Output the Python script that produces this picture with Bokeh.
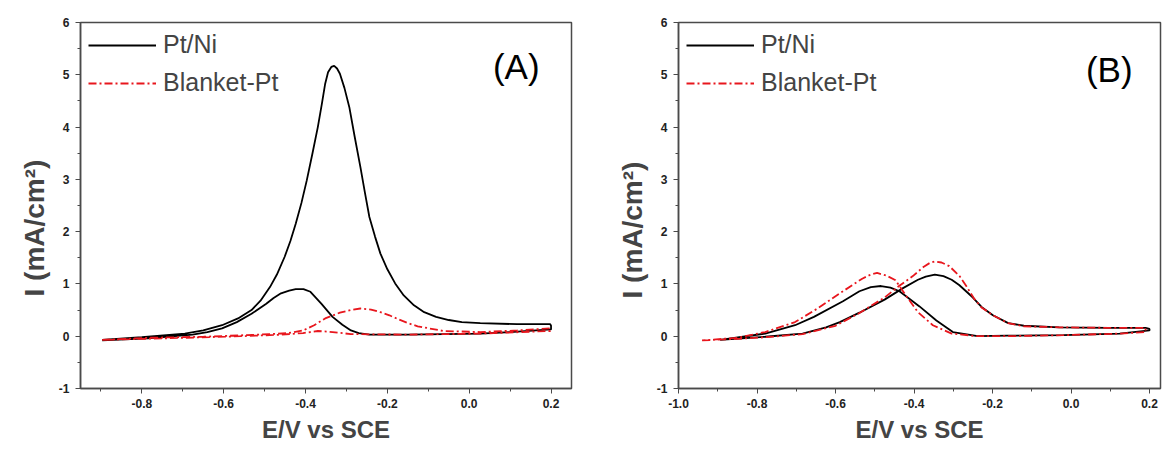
from bokeh.plotting import figure
from bokeh.layouts import row
from bokeh.models import (FixedTicker, PrintfTickFormatter, Range1d, Legend,
                          LegendItem, Title, Label)
from bokeh.embed import file_html
from bokeh.resources import INLINE

# ---------------- data ----------------
# Panel A, Pt/Ni (black): forward and reverse scan
a_ptni_fwd_e = [-0.897, -0.80, -0.74, -0.695, -0.65, -0.604, -0.565, -0.532, -0.51, -0.487,
                -0.47, -0.451, -0.437, -0.424, -0.41, -0.397, -0.383, -0.370, -0.36, -0.352,
                -0.345, -0.337, -0.33, -0.323, -0.316, -0.305, -0.293, -0.28, -0.266, -0.255,
                -0.244, -0.23, -0.217, -0.20, -0.181, -0.16, -0.135, -0.11, -0.081, -0.05,
                -0.018, 0.027, 0.117, 0.198, 0.20]
a_ptni_fwd_i = [-0.07, -0.02, 0.02, 0.05, 0.11, 0.21, 0.34, 0.50, 0.68, 0.94,
                1.18, 1.52, 1.82, 2.15, 2.55, 2.98, 3.50, 4.00, 4.45, 4.83,
                5.05, 5.15, 5.17, 5.12, 5.02, 4.75, 4.38, 3.82, 3.24, 2.75,
                2.28, 1.90, 1.58, 1.28, 1.01, 0.78, 0.59, 0.46, 0.37, 0.31,
                0.27, 0.25, 0.23, 0.23, 0.20]
a_ptni_rev_e = [0.20, 0.10, 0.027, -0.06, -0.153, -0.244, -0.27, -0.289, -0.31, -0.334,
                -0.361, -0.388, -0.405, -0.424, -0.44, -0.460, -0.478, -0.496, -0.532, -0.568,
                -0.604, -0.64, -0.676, -0.785, -0.897]
a_ptni_rev_i = [0.13, 0.08, 0.05, 0.04, 0.03, 0.03, 0.06, 0.11, 0.22, 0.37,
                0.62, 0.85, 0.90, 0.90, 0.87, 0.82, 0.73, 0.62, 0.43, 0.27,
                0.15, 0.08, 0.03, -0.04, -0.08]

# Panel A, Blanket-Pt (red)
a_pt_fwd_e = [-0.897, -0.785, -0.649, -0.514, -0.442, -0.406, -0.379, -0.352, -0.316, -0.29,
              -0.266, -0.24, -0.217, -0.195, -0.172, -0.15, -0.126, -0.063, 0.027, 0.117, 0.198]
a_pt_fwd_i = [-0.07, -0.03, -0.01, 0.03, 0.06, 0.11, 0.21, 0.34, 0.45, 0.50,
              0.53, 0.51, 0.46, 0.40, 0.32, 0.25, 0.19, 0.10, 0.08, 0.11, 0.15]
a_pt_rev_e = [0.198, 0.027, -0.153, -0.289, -0.334, -0.370, -0.406, -0.460, -0.559, -0.694, -0.897]
a_pt_rev_i = [0.10, 0.05, 0.03, 0.04, 0.08, 0.10, 0.06, 0.03, 0.00, -0.03, -0.07]

# Panel B, Pt/Ni (black)
b_ptni_fwd_e = [-0.894, -0.779, -0.684, -0.624, -0.589, -0.539, -0.475, -0.428, -0.390, -0.37,
                -0.347, -0.325, -0.304, -0.285, -0.266, -0.250, -0.228, -0.199, -0.160, -0.120,
                -0.030, 0.098, 0.190, 0.20]
b_ptni_fwd_i = [-0.07, -0.01, 0.05, 0.17, 0.27, 0.45, 0.70, 0.92, 1.08, 1.14,
                1.18, 1.15, 1.08, 0.98, 0.85, 0.74, 0.56, 0.40, 0.25, 0.20,
                0.17, 0.16, 0.16, 0.14]
b_ptni_rev_e = [0.20, 0.124, -0.019, -0.162, -0.238, -0.301, -0.343, -0.386, -0.437, -0.46,
                -0.484, -0.51, -0.539, -0.581, -0.655, -0.703, -0.779, -0.894]
b_ptni_rev_i = [0.11, 0.05, 0.02, 0.01, 0.00, 0.08, 0.30, 0.57, 0.86, 0.93,
                0.96, 0.94, 0.86, 0.67, 0.37, 0.21, 0.05, -0.07]

# Panel B, Blanket-Pt (red)
b_pt_fwd_e = [-0.94, -0.85, -0.779, -0.684, -0.60, -0.54, -0.475, -0.44, -0.403, -0.375,
              -0.36, -0.347, -0.33, -0.31, -0.284, -0.266, -0.247, -0.228, -0.199, -0.16,
              -0.12, -0.03, 0.098, 0.19]
b_pt_fwd_i = [-0.08, -0.05, -0.02, 0.04, 0.20, 0.44, 0.74, 0.95, 1.15, 1.33,
              1.40, 1.43, 1.41, 1.34, 1.15, 0.95, 0.72, 0.55, 0.40, 0.25,
              0.19, 0.17, 0.16, 0.16]
b_pt_rev_e = [0.19, 0.124, -0.019, -0.162, -0.238, -0.304, -0.352, -0.390, -0.418, -0.447,
              -0.47, -0.494, -0.51, -0.532, -0.589, -0.646, -0.703, -0.779, -0.85, -0.94]
b_pt_rev_i = [0.08, 0.05, 0.02, 0.00, 0.00, 0.05, 0.21, 0.46, 0.75, 1.07,
              1.16, 1.21, 1.18, 1.10, 0.82, 0.53, 0.27, 0.08, -0.03, -0.08]

series_names = ["Pt/Ni", "Blanket-Pt"]
y_ticks = [-1, 0, 1, 2, 3, 4, 5, 6]
y_minor = [-0.5, 0.5, 1.5, 2.5, 3.5, 4.5, 5.5]
a_x_ticks = [-0.8, -0.6, -0.4, -0.2, 0.0, 0.2]
a_x_minor = [-0.9, -0.7, -0.5, -0.3, -0.1, 0.1]
b_x_ticks = [-1.0, -0.8, -0.6, -0.4, -0.2, 0.0, 0.2]
b_x_minor = [-0.9, -0.7, -0.5, -0.3, -0.1, 0.1]
x_label = "E/V vs SCE"
y_label = "I (mA/cm²)"

FONT = "Liberation Sans"
AXC = "#4a4a4a"
RED = "#e8161d"


def make_panel(width, border_left, border_right, xr, xticks, xminor, black, red, tag,
               tag_x, tag_y, ylab_off):
    p = figure(width=width, height=449, x_range=Range1d(*xr), y_range=Range1d(-1, 6),
               output_backend="svg", toolbar_location=None,
               min_border_left=border_left, min_border_right=border_right,
               min_border_top=22, min_border_bottom=61)
    p.grid.visible = False
    p.outline_line_color = AXC
    p.outline_line_width = 1.5
    p.background_fill_color = "white"
    p.border_fill_color = "white"

    for ax in (p.xaxis[0], p.yaxis[0]):
        ax.axis_line_color = AXC
        ax.axis_line_width = 1.5
        ax.major_tick_line_color = AXC
        ax.minor_tick_line_color = AXC
        ax.major_tick_in = 0
        ax.major_tick_out = 5
        ax.minor_tick_in = 0
        ax.minor_tick_out = 3
        ax.major_label_text_font = FONT
        ax.major_label_text_font_style = "bold"
        ax.major_label_text_font_size = "12px"
        ax.major_label_text_color = "#222"
    p.xaxis[0].ticker = FixedTicker(ticks=xticks, minor_ticks=xminor)
    p.xaxis[0].formatter = PrintfTickFormatter(format="%.1f")
    p.xaxis[0].major_label_standoff = 5
    p.yaxis[0].ticker = FixedTicker(ticks=y_ticks, minor_ticks=y_minor)
    p.yaxis[0].formatter = PrintfTickFormatter(format="%d")
    p.yaxis[0].major_label_standoff = 6

    be, bi = black
    re_, ri = red
    r1 = p.line(be, bi, line_color="black", line_width=1.8)
    r2 = p.line(re_, ri, line_color=RED, line_width=1.8, line_dash="8 3 2 3")

    legend = Legend(items=[LegendItem(label=series_names[0], renderers=[r1]),
                           LegendItem(label=series_names[1], renderers=[r2])],
                    location="top_left", border_line_color=None, background_fill_alpha=0,
                    glyph_width=68, glyph_height=28, label_height=28,
                    label_text_font=FONT, label_text_font_size="25px",
                    label_standoff=7, spacing=9, padding=2, margin=8)
    p.add_layout(legend)

    p.add_layout(Label(x=tag_x, y=tag_y, text=tag, text_font=FONT, text_font_size="35px",
                       text_align="left", text_baseline="middle", text_color="black"))

    xt = Title(text=x_label, align="center", text_font=FONT,
               text_font_style="bold", text_font_size="24px", standoff=6)
    p.add_layout(xt, "below")
    yt = Title(text=y_label, align="left", offset=ylab_off, text_font=FONT,
               text_font_style="bold", text_font_size="28px", standoff=12)
    p.add_layout(yt, "left")
    return p


pa = make_panel(600, 80, 29, (-0.95, 0.25), a_x_ticks, a_x_minor,
                (a_ptni_fwd_e + a_ptni_rev_e, a_ptni_fwd_i + a_ptni_rev_i),
                (a_pt_fwd_e + a_pt_rev_e, a_pt_fwd_i + a_pt_rev_i),
                "(A)", 0.058, 5.15, 92)
pb = make_panel(562, 78, 2, (-1.0, 0.228), b_x_ticks, b_x_minor,
                (b_ptni_fwd_e + b_ptni_rev_e, b_ptni_fwd_i + b_ptni_rev_i),
                (b_pt_fwd_e + b_pt_rev_e, b_pt_fwd_i + b_pt_rev_i),
                "(B)", 0.038, 5.11, 90)

layout = row(pa, pb)
open("out.html", "w").write(file_html(layout, INLINE))
